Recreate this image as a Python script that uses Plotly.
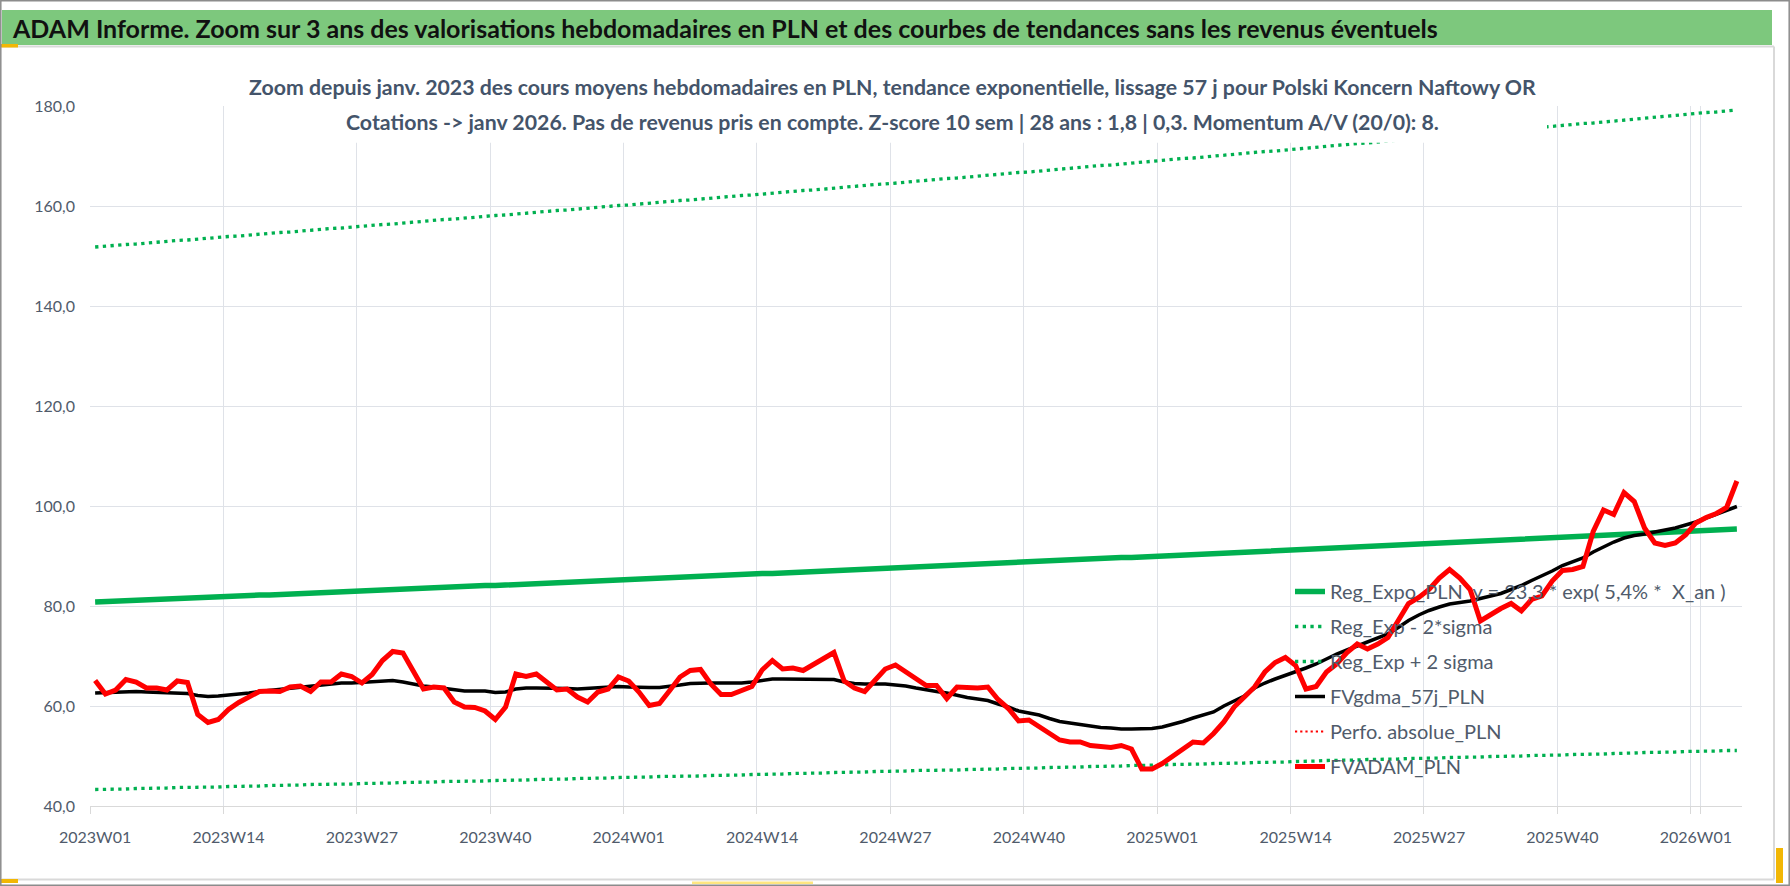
import plotly.graph_objects as go

# semaines 2023W01 -> 2026W05
semaines = [f"{a}W{s:02d}" for a in (2023, 2024, 2025) for s in range(1, 53)]
semaines += [f"2026W{s:02d}" for s in range(1, 6)]

fvadam_pln = [
    65.1, 62.4, 63.2, 65.3, 64.8, 63.6, 63.6, 63.2, 65.0, 64.7,
    58.3, 56.7, 57.3, 59.3, 60.7, 61.7, 62.9, 63.0, 62.9, 63.8,
    64.0, 62.9, 64.8, 64.8, 66.4, 65.9, 64.6, 66.3, 69.1, 70.9,
    70.6, 67.0, 63.4, 63.8, 63.6, 60.8, 59.8, 59.7, 59.0, 57.3,
    59.8, 66.4, 65.9, 66.4, 64.8, 63.2, 63.4, 61.8, 60.8, 62.8,
    63.4, 65.8, 65.0, 62.8, 60.1, 60.5, 63.1, 65.8, 67.1, 67.3,
    64.4, 62.3, 62.3, 63.0, 63.9, 67.2, 69.1, 67.4, 67.6, 67.1,
    68.3, 69.6, 70.7, 65.0, 63.6, 62.9, 65.1, 67.4, 68.2, 66.8,
    65.4, 64.1, 64.1, 61.5, 63.8, 63.6, 63.6, 63.8, 61.3, 59.5,
    57.0, 57.2, 55.8, 54.6, 53.2, 52.8, 52.8, 52.1, 52.0, 51.7,
    52.1, 51.4, 47.4, 47.4, 48.5, 49.9, 51.2, 52.8, 52.6, 54.5,
    56.8, 59.8, 61.8, 63.8, 66.8, 68.7, 69.7, 68.1, 63.4, 63.9,
    66.8, 68.4, 70.7, 72.4, 71.4, 72.4, 73.7, 77.0, 80.5, 81.7,
    83.3, 85.6, 87.3, 85.6, 83.3, 77.0, 78.3, 79.5, 80.5, 79.0,
    81.3, 82.0, 85.0, 87.1, 87.3, 87.9, 94.9, 99.2, 98.3, 102.7,
    100.9, 95.6, 92.6, 92.1, 92.6, 94.2, 96.6, 97.7, 98.5, 99.7,
    105.0,
]

fvgdma_57j = [
    62.6, 62.7, 62.8, 62.9, 62.9, 62.8, 62.7, 62.7, 62.6, 62.5,
    62.1, 61.9, 62.0, 62.2, 62.3, 62.6, 62.9, 63.1, 63.4, 63.6,
    63.8, 64.0, 64.2, 64.4, 64.6, 64.6, 64.7, 64.8, 65.0, 65.1,
    64.8, 64.4, 64.0, 63.8, 63.5, 63.2, 63.0, 63.0, 63.0, 62.7,
    62.8, 63.4, 63.6, 63.6, 63.6, 63.5, 63.5, 63.4, 63.5, 63.7,
    63.8, 63.9, 63.8, 63.7, 63.7, 63.7, 63.9, 64.2, 64.5, 64.6,
    64.6, 64.6, 64.6, 64.6, 64.8, 65.1, 65.4, 65.4, 65.4, 65.4,
    65.4, 65.4, 65.3, 64.8, 64.5, 64.4, 64.4, 64.4, 64.2, 64.0,
    63.6, 63.2, 62.9, 62.6, 62.1, 61.7, 61.4, 61.1, 60.4, 59.8,
    59.0, 58.6, 58.2, 57.5, 56.9, 56.6, 56.3, 56.0, 55.7, 55.6,
    55.4, 55.4, 55.4, 55.5, 55.8, 56.3, 56.9, 57.6, 58.2, 58.8,
    60.0, 61.0, 62.0, 63.6, 64.6, 65.4, 66.1, 66.8, 67.6, 68.4,
    69.4, 70.4, 71.2, 72.0, 72.7, 73.5, 74.4, 75.7, 77.1, 78.2,
    79.1, 79.8, 80.4, 80.7, 81.0, 81.5, 82.0, 82.5, 83.3, 84.1,
    85.1, 86.0, 87.0, 88.1, 88.9, 89.6, 90.8, 91.8, 92.8, 93.6,
    94.1, 94.4, 94.8, 95.2, 95.6, 96.2, 96.8, 97.6, 98.4, 99.1,
    99.9,
]

reg_expo = [
    80.8, 80.9, 81.0, 81.1, 81.1, 81.2, 81.3, 81.4, 81.5, 81.6,
    81.6, 81.7, 81.8, 81.9, 82.0, 82.1, 82.2, 82.2, 82.3, 82.4,
    82.5, 82.6, 82.7, 82.8, 82.8, 82.9, 83.0, 83.1, 83.2, 83.3,
    83.4, 83.4, 83.5, 83.6, 83.7, 83.8, 83.9, 84.0, 84.1, 84.1,
    84.2, 84.3, 84.4, 84.5, 84.6, 84.7, 84.8, 84.8, 84.9, 85.0,
    85.1, 85.2, 85.3, 85.4, 85.5, 85.6, 85.6, 85.7, 85.8, 85.9,
    86.0, 86.1, 86.2, 86.3, 86.4, 86.5, 86.5, 86.6, 86.7, 86.8,
    86.9, 87.0, 87.1, 87.2, 87.3, 87.4, 87.4, 87.5, 87.6, 87.7,
    87.8, 87.9, 88.0, 88.1, 88.2, 88.3, 88.4, 88.4, 88.5, 88.6,
    88.7, 88.8, 88.9, 89.0, 89.1, 89.2, 89.3, 89.4, 89.5, 89.6,
    89.7, 89.7, 89.8, 89.9, 90.0, 90.1, 90.2, 90.3, 90.4, 90.5,
    90.6, 90.7, 90.8, 90.9, 91.0, 91.1, 91.1, 91.2, 91.3, 91.4,
    91.5, 91.6, 91.7, 91.8, 91.9, 92.0, 92.1, 92.2, 92.3, 92.4,
    92.5, 92.6, 92.7, 92.8, 92.9, 93.0, 93.1, 93.2, 93.3, 93.4,
    93.5, 93.5, 93.6, 93.7, 93.8, 93.9, 94.0, 94.1, 94.2, 94.3,
    94.4, 94.5, 94.6, 94.7, 94.8, 94.9, 95.0, 95.1, 95.2, 95.3,
    95.4,
]

reg_moins_2sigma = [
    43.3, 43.3, 43.4, 43.4, 43.5, 43.5, 43.6, 43.6, 43.7, 43.7,
    43.8, 43.8, 43.8, 43.9, 43.9, 44.0, 44.0, 44.1, 44.1, 44.2,
    44.2, 44.3, 44.3, 44.3, 44.4, 44.4, 44.5, 44.5, 44.6, 44.6,
    44.7, 44.7, 44.8, 44.8, 44.9, 44.9, 45.0, 45.0, 45.0, 45.1,
    45.1, 45.2, 45.2, 45.3, 45.3, 45.4, 45.4, 45.5, 45.5, 45.6,
    45.6, 45.7, 45.7, 45.8, 45.8, 45.9, 45.9, 45.9, 46.0, 46.0,
    46.1, 46.1, 46.2, 46.2, 46.3, 46.3, 46.4, 46.4, 46.5, 46.5,
    46.6, 46.6, 46.7, 46.7, 46.8, 46.8, 46.9, 46.9, 46.9, 47.0,
    47.1, 47.1, 47.1, 47.2, 47.2, 47.3, 47.3, 47.4, 47.4, 47.5,
    47.5, 47.6, 47.6, 47.7, 47.7, 47.8, 47.8, 47.9, 47.9, 48.0,
    48.0, 48.1, 48.1, 48.2, 48.2, 48.3, 48.3, 48.4, 48.4, 48.5,
    48.5, 48.6, 48.6, 48.7, 48.7, 48.8, 48.8, 48.9, 48.9, 49.0,
    49.1, 49.1, 49.2, 49.2, 49.3, 49.3, 49.4, 49.4, 49.5, 49.5,
    49.6, 49.6, 49.7, 49.7, 49.8, 49.8, 49.9, 49.9, 50.0, 50.0,
    50.1, 50.1, 50.2, 50.2, 50.3, 50.3, 50.4, 50.4, 50.5, 50.5,
    50.6, 50.7, 50.7, 50.8, 50.8, 50.9, 50.9, 51.0, 51.0, 51.1,
    51.1,
]

reg_plus_2sigma = [
    151.8, 152.0, 152.1, 152.3, 152.4, 152.6, 152.7, 152.9, 153.1, 153.2,
    153.4, 153.5, 153.7, 153.9, 154.0, 154.2, 154.3, 154.5, 154.7, 154.8,
    155.0, 155.1, 155.3, 155.5, 155.6, 155.8, 155.9, 156.1, 156.3, 156.4,
    156.6, 156.8, 156.9, 157.1, 157.3, 157.4, 157.6, 157.7, 157.9, 158.1,
    158.2, 158.4, 158.6, 158.7, 158.9, 159.1, 159.2, 159.4, 159.6, 159.7,
    159.9, 160.1, 160.2, 160.4, 160.6, 160.7, 160.9, 161.1, 161.2, 161.4,
    161.6, 161.7, 161.9, 162.1, 162.2, 162.4, 162.6, 162.7, 162.9, 163.1,
    163.2, 163.4, 163.6, 163.8, 163.9, 164.1, 164.3, 164.4, 164.6, 164.8,
    164.9, 165.1, 165.3, 165.5, 165.6, 165.8, 166.0, 166.1, 166.3, 166.5,
    166.7, 166.8, 167.0, 167.2, 167.4, 167.5, 167.7, 167.9, 168.1, 168.2,
    168.4, 168.6, 168.8, 168.9, 169.1, 169.3, 169.5, 169.6, 169.8, 170.0,
    170.2, 170.3, 170.5, 170.7, 170.9, 171.0, 171.2, 171.4, 171.6, 171.8,
    171.9, 172.1, 172.3, 172.5, 172.6, 172.8, 173.0, 173.2, 173.4, 173.5,
    173.7, 173.9, 174.1, 174.3, 174.5, 174.6, 174.8, 175.0, 175.2, 175.4,
    175.5, 175.7, 175.9, 176.1, 176.3, 176.5, 176.6, 176.8, 177.0, 177.2,
    177.4, 177.6, 177.7, 177.9, 178.1, 178.3, 178.5, 178.7, 178.8, 179.0,
    179.2,
]

# serie sans valeur dans cette fenetre de zoom
perfo_absolue = [None] * len(semaines)

titre = ("ADAM Informe. Zoom sur 3 ans des valorisations hebdomadaires en PLN "
         "et des courbes de tendances sans les revenus éventuels")
sous_titre_1 = ("Zoom depuis janv. 2023 des cours moyens hebdomadaires en PLN, tendance "
                "exponentielle, lissage 57 j pour Polski Koncern Naftowy OR")
sous_titre_2 = ("Cotations -> janv 2026. Pas de revenus pris en compte. Z-score 10 sem | "
                "28 ans : 1,8 | 0,3. Momentum A/V (20/0): 8.")

W, H = 1790, 886
L, R, T, B = 90, 1742, 106, 806


def px_x(p):
    return (p - L) / (R - L)


def px_y(p):
    return (B - p) / (B - T)


VERT = "#00b050"
GRIS_TXT = "#505b6b"
GRILLE = "#dfe2e8"

fig = go.Figure()

fig.add_trace(go.Scatter(x=semaines, y=reg_expo, mode="lines", legendgroup="a",
                         name="Reg_Expo_PLN\u00a0\u00a0y = 23,3 * exp( 5,4% *\u00a0\u00a0X_an )",
                         line=dict(color=VERT, width=5.5)))
fig.add_trace(go.Scatter(x=semaines, y=reg_moins_2sigma, mode="lines", legendgroup="b",
                         name="Reg_Exp - 2*sigma",
                         line=dict(color=VERT, width=3.3, dash="3.3px,4.4px")))
fig.add_trace(go.Scatter(x=semaines, y=reg_plus_2sigma, mode="lines", legendgroup="c",
                         name="Reg_Exp + 2 sigma",
                         line=dict(color=VERT, width=3.3, dash="3.3px,4.4px")))
fig.add_trace(go.Scatter(x=semaines, y=fvgdma_57j, mode="lines", legendgroup="d",
                         name="FVgdma_57j_PLN",
                         line=dict(color="black", width=3.5)))
fig.add_trace(go.Scatter(x=semaines, y=perfo_absolue, mode="lines", legendgroup="e",
                         name="Perfo. absolue_PLN",
                         line=dict(color="#ff0000", width=2.2, dash="2.2px,3px")))
fig.add_trace(go.Scatter(x=semaines, y=fvadam_pln, mode="lines", legendgroup="f",
                         name="FVADAM_PLN",
                         line=dict(color="#ff0000", width=5)))

shapes = [
    # bandeau vert du titre
    dict(type="rect", xref="paper", yref="paper", x0=px_x(2), x1=px_x(1772),
         y0=px_y(10), y1=px_y(45), fillcolor="#7dc87d", line_width=0, layer="below"),
    dict(type="line", xref="paper", yref="paper", x0=px_x(2), x1=px_x(1774),
         y0=px_y(46.5), y1=px_y(46.5), line=dict(color="#d9d9d9", width=2)),
    dict(type="line", xref="paper", yref="paper", x0=px_x(2), x1=px_x(1774),
         y0=px_y(879.5), y1=px_y(879.5), line=dict(color="#d9d9d9", width=2)),
    dict(type="line", xref="paper", yref="paper", x0=px_x(1774), x1=px_x(1774),
         y0=px_y(46.5), y1=px_y(879.5), line=dict(color="#d9d9d9", width=2)),
    # poignees de selection
    dict(type="rect", xref="paper", yref="paper", x0=px_x(0), x1=px_x(18),
         y0=px_y(44), y1=px_y(47.5), fillcolor="#f2b705", line_width=0),
    dict(type="rect", xref="paper", yref="paper", x0=px_x(0), x1=px_x(18),
         y0=px_y(879), y1=px_y(883), fillcolor="#f2b705", line_width=0),
    dict(type="rect", xref="paper", yref="paper", x0=px_x(1776), x1=px_x(1783),
         y0=px_y(848), y1=px_y(883), fillcolor="#f2b705", line_width=0),
    dict(type="rect", xref="paper", yref="paper", x0=px_x(692), x1=px_x(813),
         y0=px_y(881.5), y1=px_y(884), fillcolor="#ffe680", line_width=0),
    # cadre exterieur
    dict(type="rect", xref="paper", yref="paper", x0=px_x(0.8), x1=px_x(1789.2),
         y0=px_y(0.8), y1=px_y(885.2), line=dict(color="#8c8c8c", width=1.5)),
    # zone blanche du sous-titre (masque la courbe +2 sigma)
    dict(type="rect", xref="paper", yref="paper", x0=px_x(238), x1=px_x(1547),
         y0=px_y(52), y1=px_y(142.7), fillcolor="white", line_width=0, layer="above"),
]

annotations = [
    dict(text=titre, xref="paper", yref="paper", x=px_x(10), y=px_y(27.5),
         xanchor="left", yanchor="middle", showarrow=False,
         font=dict(family="Lato", size=25, color="#111111", weight="bold")),
    dict(text=sous_titre_1, xref="paper", yref="paper", x=px_x(892), y=px_y(86.7),
         xanchor="center", yanchor="middle", showarrow=False,
         font=dict(family="Lato", size=21.3, color="#44546a", weight="bold")),
    dict(text=sous_titre_2, xref="paper", yref="paper", x=px_x(892), y=px_y(121.7),
         xanchor="center", yanchor="middle", showarrow=False,
         font=dict(family="Lato", size=21.3, color="#44546a", weight="bold")),
]

fig.update_layout(
    width=W, height=H,
    margin=dict(l=L, r=W - R, t=T, b=H - B),
    paper_bgcolor="white", plot_bgcolor="white",
    separators=", ",
    font=dict(family="Lato", color=GRIS_TXT),
    shapes=shapes, annotations=annotations,
    showlegend=True, hovermode=False,
    legend=dict(x=px_x(1290), y=px_y(572), xanchor="left", yanchor="top",
                bgcolor="rgba(0,0,0,0)", font=dict(size=20, color=GRIS_TXT),
                tracegroupgap=6, itemwidth=30, traceorder="grouped"),
)

fig.update_xaxes(
    type="category", categoryorder="array", categoryarray=semaines,
    range=[-0.5, len(semaines) - 0.5],
    tickvals=semaines[::13], tickson="boundaries", tickangle=0,
    ticks="outside", ticklen=7, tickcolor="#d9d9d9", tickwidth=1.3,
    showgrid=True, gridcolor=GRILLE, gridwidth=1.3,
    showline=True, linecolor="#d9d9d9", linewidth=1.3,
    zeroline=False, ticklabelstandoff=17,
    tickfont=dict(family="Lato", size=16, color=GRIS_TXT),
)
fig.update_yaxes(
    range=[40, 180], dtick=20, tickformat=".1f",
    showgrid=True, gridcolor=GRILLE, gridwidth=1.3,
    zeroline=False, showline=False, ticks="", ticklabelstandoff=14,
    tickfont=dict(family="Lato", size=16, color=GRIS_TXT),
)

# la page n'a pas de marge: le graphique commence au coin de la fenetre
fig.write_html("out.html", config={"displayModeBar": False},
               post_script="document.body.style.margin='0px';")
